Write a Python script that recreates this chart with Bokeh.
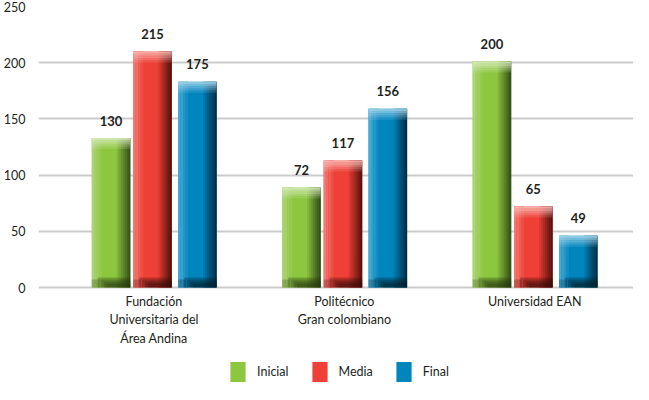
from bokeh.plotting import figure
from bokeh.models import ColumnDataSource, Range1d, FixedTicker, Legend, LegendItem
from bokeh.transform import dodge
from bokeh.core.properties import value
from bokeh.embed import file_html
from bokeh.resources import INLINE

# ---------------- data ----------------
categories = ["Fundación\nUniversitaria del\nÁrea Andina",
              "Politécnico\nGran colombiano",
              "Universidad EAN"]
series = ["Inicial", "Media", "Final"]
# bar heights as drawn in the picture
inicial_bar = [133, 89, 201]
media_bar = [210, 113, 72]
final_bar = [183, 159, 46]
# printed value labels
inicial_label = ["130", "72", "200"]
media_label = ["215", "117", "65"]
final_label = ["175", "156", "49"]
y_ticks = [0, 50, 100, 150, 200, 250]

# ---------------- styling ----------------
FONT = "Lato"
TEXT = "#231F20"
W, H = 633, 384
LEFT, TOP = 30, 6
ZERO_PX = 287
VPX = 250 / (ZERO_PX - TOP)
HPX = 1 / 193
x_start = 1 - 117 * HPX
x_end = x_start + (W - LEFT) * HPX
y_start = -(H - ZERO_PX) * VPX

palettes = {
    "Inicial": dict(main="#8DC63F", light="#ADD476", d2="#36511A",
                    top="#D8ECC0", bot="#243510"),
    "Media": dict(main="#EE4036", light="#F27A73", d2="#5A120E",
                  top="#F9BDB8", bot="#330A08"),
    "Final": dict(main="#0085BD", light="#46AAD4", d2="#00304A",
                  top="#A4D4EA", bot="#001B28"),
}
offsets_px = {"Inicial": -43.5, "Media": -1.5, "Final": 44.0}
BAR_W = 39


def mix(c1, c2, t):
    a = [int(c1[i:i + 2], 16) for i in (1, 3, 5)]
    b = [int(c2[i:i + 2], 16) for i in (1, 3, 5)]
    return "#%02x%02x%02x" % tuple(round(a[k] + (b[k] - a[k]) * t) for k in range(3))


p = figure(width=W, height=H, output_backend="svg", toolbar_location=None,
           x_range=Range1d(x_start, x_end), y_range=Range1d(y_start, 250),
           min_border_left=LEFT, min_border_right=0, min_border_top=TOP,
           min_border_bottom=0)
p.outline_line_color = None
p.background_fill_color = "white"
p.xaxis.visible = False
p.xgrid.visible = False
p.ygrid.ticker = FixedTicker(ticks=y_ticks)
p.ygrid.grid_line_color = "#CBCBCB"
p.ygrid.grid_line_width = 2
yax = p.yaxis[0]
yax.ticker = FixedTicker(ticks=y_ticks)
yax.axis_line_color = None
yax.major_tick_line_color = None
yax.minor_tick_line_color = None
yax.major_label_standoff = 7
yax.major_label_text_font = FONT
yax.major_label_text_font_size = "12.5px"
yax.major_label_text_color = TEXT

pos = list(range(1, len(categories) + 1))
bars = {"Inicial": inicial_bar, "Media": media_bar, "Final": final_bar}
labels = {"Inicial": inicial_label, "Media": media_label, "Final": final_label}

legend_items = []
for s in series:
    vals = bars[s]
    c = palettes[s]
    off = offsets_px[s]
    n = len(vals)
    data = dict(pos=pos, top=vals, zero=[0] * n,
                ly=[v + 17.5 * VPX for v in vals], lab=labels[s])
    # horizontal bands at the top of each bar (pixel steps below the top)
    for k in range(6):
        data["t%d" % k] = [v - 2.2 * k * VPX for v in vals]
    for k in range(5):
        data["b%d" % k] = [(10 - 2 * k) * VPX] * n
    src = ColumnDataSource(data)

    def layer(dx, w, top, bottom, color, alpha=1.0):
        return p.vbar(x=dodge("pos", (off + dx) * HPX, range=p.x_range), width=w * HPX,
                      top=top, bottom=bottom, source=src, fill_color=color,
                      fill_alpha=alpha, line_color=None)

    base = layer(0, BAR_W, "top", "zero", c["main"])
    # left highlight, fading to main
    for k in range(4):
        x0 = -19.5 + 2.5 * k
        layer(x0 + 1.25, 2.5, "top", "zero", mix(c["light"], c["main"], k / 4))
    # right shading, main -> dark
    steps = 7
    for k in range(steps):
        x0 = 6 + k * (13.5 / steps)
        layer(x0 + 13.5 / steps / 2, 13.5 / steps + 0.3, "top", "zero",
              mix(c["main"], c["d2"], (k + 1) / steps))
    # top light band, fading downward
    for k in range(5):
        layer(0, BAR_W, "t%d" % k, "t%d" % (k + 1), c["top"], 0.85 * (1 - k / 5))
    # bottom shadow
    for k in range(4):
        layer(3 + 1.5 * k, 33 - 3 * k, "b%d" % k, "zero", c["bot"], 0.28)
    layer(-15.5, 8, "b1", "zero", c["bot"], 0.25)

    p.text(x=dodge("pos", off * HPX, range=p.x_range), y="ly", text="lab", source=src,
           text_align="center", text_baseline="middle", text_font=value(FONT),
           text_font_style="bold", text_font_size="13px", text_color=TEXT)
    legend_items.append(LegendItem(label=s, renderers=[base]))

cat_src = ColumnDataSource(dict(pos=pos, name=categories, y=[-6 * VPX] * len(pos)))
p.text(x="pos", y="y", text="name", source=cat_src, text_align="center",
       text_baseline="top", text_font=value(FONT), text_font_size="12.5px",
       text_color=TEXT, text_line_height=1.25)

legend = Legend(items=legend_items, orientation="horizontal", location=(190, 0),
                glyph_width=19, glyph_height=25, label_standoff=10, spacing=21,
                padding=0, margin=0, border_line_color=None,
                background_fill_alpha=0, label_text_font=FONT,
                label_text_font_size="12.5px", label_text_color=TEXT,
                label_height=25)
p.add_layout(legend)

open("out.html", "w").write(file_html(p, INLINE))
